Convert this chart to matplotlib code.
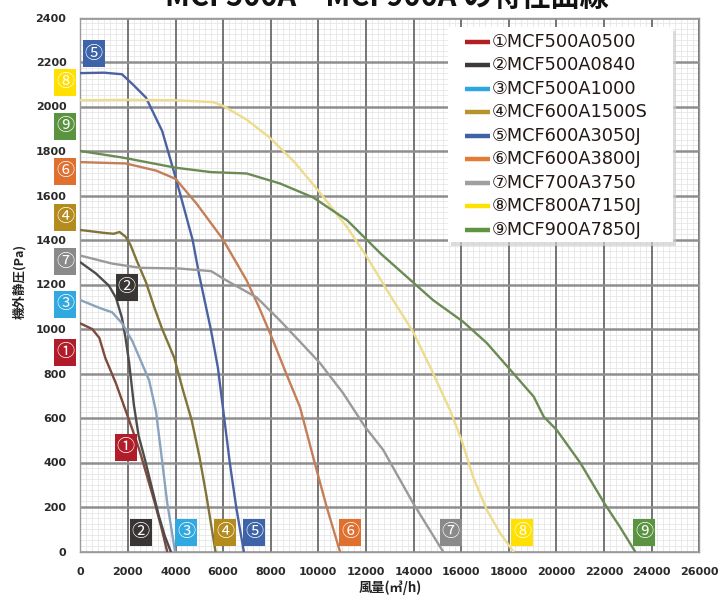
import matplotlib
matplotlib.use('Agg')
import matplotlib.pyplot as plt
import numpy as np
from matplotlib.patches import Rectangle
from matplotlib.lines import Line2D

# ---------------- data ----------------
models = ['①MCF500A0500', '②MCF500A0840', '③MCF500A1000', '④MCF600A1500S',
          '⑤MCF600A3050J', '⑥MCF600A3800J', '⑦MCF700A3750', '⑧MCF800A7150J',
          '⑨MCF900A7850J']
marks = ['①', '②', '③', '④', '⑤', '⑥', '⑦', '⑧', '⑨']

flow_1 = [0, 500, 800, 1050, 1500, 1900, 2200, 2500, 2800, 3100, 3400, 3650]
pres_1 = [1025, 1000, 960, 870, 755, 635, 545, 450, 340, 230, 110, 0]

flow_2 = [0, 650, 1200, 1500, 1750, 1900, 2050, 2250, 2450, 2700, 3000, 3300, 3550, 3800]
pres_2 = [1300, 1250, 1195, 1140, 1050, 960, 850, 660, 520, 420, 290, 160, 70, 0]

flow_3 = [0, 800, 1340, 1760, 2190, 2550, 2890, 3180, 3400, 3650, 3980]
pres_3 = [1130, 1095, 1075, 1025, 945, 855, 770, 630, 440, 220, 0]

flow_4 = [0, 1000, 1400, 1650, 1900, 2100, 2400, 2760, 3100, 3440, 3950, 4300, 4680, 5000, 5300, 5680]
pres_4 = [1445, 1432, 1428, 1436, 1415, 1380, 1300, 1210, 1100, 1000, 870, 730, 590, 430, 250, 0]

flow_5 = [0, 1000, 1750, 2200, 2760, 3440, 3980, 4290, 4720, 5000, 5240, 5500, 5780, 6000, 6280, 6550, 6870]
pres_5 = [2150, 2152, 2145, 2100, 2040, 1890, 1690, 1570, 1400, 1240, 1120, 990, 827, 640, 400, 200, 0]

flow_6 = [0, 1910, 3180, 4000, 4880, 5980, 6990, 7500, 8100, 8650, 9230, 9930, 10350, 10910]
pres_6 = [1750, 1744, 1712, 1675, 1564, 1405, 1218, 1100, 948, 800, 649, 366, 201, 0]

flow_7 = [0, 1340, 2500, 4160, 5500, 6140, 7410, 8390, 9230, 10070, 11040, 11960, 12730, 13980, 15240]
pres_7 = [1330, 1294, 1275, 1272, 1260, 1218, 1142, 1038, 943, 847, 712, 561, 456, 218, 0]

flow_8 = [0, 2000, 4000, 5560, 5980, 7000, 7960, 9000, 10000, 11220, 12060, 13140, 13980,
          14820, 15530, 16020, 16500, 17080, 17640, 18190]
pres_8 = [2028, 2030, 2028, 2020, 2004, 1940, 1860, 1750, 1622, 1456, 1321, 1130, 988,
          802, 636, 501, 336, 187, 83, 0]

flow_9 = [0, 1750, 4000, 5500, 6990, 8390, 9790, 11220, 12620, 14820, 16080, 17080, 18070,
          19050, 19470, 20020, 21010, 22010, 22670, 23310]
pres_9 = [1800, 1771, 1725, 1705, 1699, 1654, 1591, 1488, 1339, 1130, 1033, 937, 816,
          696, 606, 546, 398, 218, 111, 0]

x_ticks = [0, 2000, 4000, 6000, 8000, 10000, 12000, 14000, 16000, 18000, 20000, 22000, 24000, 26000]
y_ticks = [0, 200, 400, 600, 800, 1000, 1200, 1400, 1600, 1800, 2000, 2200, 2400]

flows = [flow_1, flow_2, flow_3, flow_4, flow_5, flow_6, flow_7, flow_8, flow_9]
press = [pres_1, pres_2, pres_3, pres_4, pres_5, pres_6, pres_7, pres_8, pres_9]

# ---------------- style ----------------
curve_colors = ['#7e4a3e', '#4e4b4b', '#8aa3bd', '#807438', '#4a62a2',
                '#c47e58', '#9a9a9a', '#ecdc8c', '#6b8b55']
key_colors = ['#b11f24', '#3e3a39', '#2ea7e0', '#b8922a', '#3f62a6',
              '#e47c37', '#9fa0a0', '#ffe100', '#5f9540']
box_colors = ['#b01c2a', '#3a3535', '#30a8e0', '#b48c1e', '#3d63a8',
              '#e07030', '#8a8a8a', '#ffe000', '#5a9440']

W, H = 721, 598
FONT = ['Noto Sans CJK JP', 'DejaVu Sans']

fig = plt.figure(figsize=(W / 100, H / 100), dpi=100)
fig.patch.set_facecolor('white')

def fx(px):
    return px / W

def fy(py):
    return 1 - py / H

ax_l, ax_r, ax_t, ax_b = 80.3, 699.1, 17.5, 551.5
ax = fig.add_axes([fx(ax_l), fy(ax_b), fx(ax_r - ax_l), (ax_b - ax_t) / H])
ax.set_xlim(0, 26000)
ax.set_ylim(0, 2400)
ax.set_xticks(x_ticks)
ax.set_yticks(y_ticks)
ax.set_xticks(np.arange(0, 26001, 250), minor=True)
ax.set_yticks(np.arange(0, 2401, 25), minor=True)
ax.grid(which='minor', color='#e6e6e6', lw=0.6, zorder=0)
ax.set_axisbelow(True)
for xv in x_ticks:
    ax.axvline(xv, color='#6a6a6a', lw=1.3, zorder=1)
for yv in y_ticks:
    ax.axhline(yv, color='#8e8e8e', lw=1.8, zorder=1)
for s in ax.spines.values():
    s.set_color('#9a9a9a')
    s.set_linewidth(1.0)
ax.tick_params(which='both', length=0)
ax.tick_params(axis='y', pad=10)
ax.tick_params(axis='x', pad=11)
ax.set_xticklabels([str(v) for v in x_ticks], fontsize=8, fontweight='bold',
                   color='#2a2a2a', family='DejaVu Sans')
ax.set_yticklabels([str(v) for v in y_ticks], fontsize=8, fontweight='bold',
                   color='#2a2a2a', family='DejaVu Sans')

for f, p, c in zip(flows, press, curve_colors):
    ax.plot(f, p, color=c, lw=1.7, zorder=3, solid_capstyle='round', solid_joinstyle='round')

# axis titles
fig.text(fx(20), fy(281), '機外静圧(Pa)', rotation=90, ha='center', va='center',
         fontsize=9, fontweight='bold', family=FONT, color='#222222')
fig.text(fx(390), fy(588), '風量(㎥/h)', ha='center', va='center',
         fontsize=9.5, fontweight='bold', family=FONT, color='#222222')

# title (cropped at the top edge, as in the reference)
fig.text(fx(387), fy(6), 'MCF500A～MCF900A の特性曲線', ha='center', va='baseline',
         fontsize=21, fontweight='bold', family=FONT, color='#111111')

# legend (manual)
lg_l, lg_t, lg_r, lg_b = 448, 27, 673, 242
fig.patches.append(Rectangle((fx(lg_l + 3), fy(lg_b + 4)), fx(lg_r - lg_l), (lg_b - lg_t) / H,
                             transform=fig.transFigure, facecolor='#cfcfcf',
                             edgecolor='none', alpha=0.7, zorder=5))
fig.patches.append(Rectangle((fx(lg_l), fy(lg_b)), fx(lg_r - lg_l), (lg_b - lg_t) / H,
                             transform=fig.transFigure, facecolor='white',
                             edgecolor='none', zorder=6))
for i, (lab, col) in enumerate(zip(models, key_colors)):
    yy = 41.7 + i * 23.5
    fig.lines.append(Line2D([fx(465), fx(490)], [fy(yy), fy(yy)], transform=fig.transFigure,
                            color=col, lw=3.2, zorder=7, solid_capstyle='butt'))
    fig.text(fx(492), fy(yy), lab, ha='left', va='center', fontsize=12.8,
             family=['DejaVu Sans', 'Noto Sans CJK JP'], color='#231815', zorder=8)

# numbered marker boxes (pixel centres)
box_pos = [
    (0, 65, 352.3), (0, 125.8, 447.3),
    (1, 126.7, 287.3), (1, 140.8, 532.3),
    (2, 65, 304.3), (2, 186.2, 532.3),
    (3, 65, 217.3), (3, 225.2, 532.3),
    (4, 93.8, 53.5), (4, 254.2, 532.3),
    (5, 65, 171.3), (5, 350, 532.3),
    (6, 65, 261.7), (6, 450.8, 532.3),
    (7, 65, 82.3), (7, 522.3, 532.3),
    (8, 65, 126.3), (8, 644, 532.3),
]
bw, bh = 22, 26.7
for k, cx, cy in box_pos:
    fig.patches.append(Rectangle((fx(cx - bw / 2), fy(cy + bh / 2)), fx(bw), bh / H,
                                 transform=fig.transFigure, facecolor=box_colors[k],
                                 edgecolor='none', zorder=9))
    fig.text(fx(cx), fy(cy), marks[k], ha='center', va='center', fontsize=13,
             family=FONT, color='white', zorder=10)

fig.savefig('out.png', dpi=100, facecolor='white')
